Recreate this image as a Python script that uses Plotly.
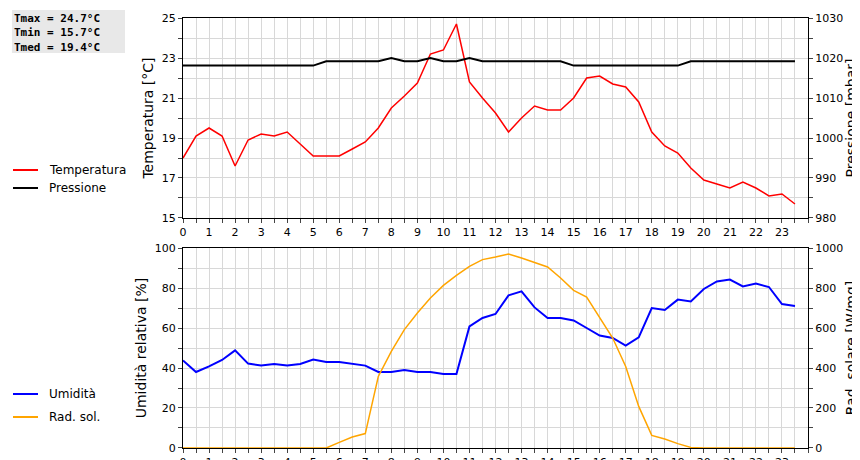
import plotly.graph_objects as go

# half-hour readings, 0 .. 23.5
ore = [i * 0.5 for i in range(48)]
temperatura = [18.0, 19.1, 19.5, 19.1, 17.6, 18.9, 19.2, 19.1, 19.3, 18.7,
               18.1, 18.1, 18.1, 18.45, 18.8, 19.5, 20.5, 21.1, 21.75, 23.2,
               23.4, 24.7, 21.8, 21.0, 20.25, 19.3, 20.0, 20.6, 20.4, 20.4,
               21.0, 22.0, 22.1, 21.7, 21.55, 20.8, 19.3, 18.6, 18.25, 17.5,
               16.9, 16.7, 16.5, 16.8, 16.5, 16.1, 16.2, 15.7]
pressione = [1018.1] * 11 + [1019.2] * 5 + [1020, 1019.2, 1019.2, 1020, 1019.2, 1019.2, 1020] \
    + [1019.2] * 7 + [1018.1] * 9 + [1019.2] * 9
umidita = [43.8, 38, 40.8, 44, 48.8, 42.2, 41.2, 42, 41.2, 42, 44.2, 43, 43, 42,
           41.2, 38, 38, 39, 38, 38, 37, 37, 60.8, 65, 67, 76.3, 78.3, 70.3, 65,
           65, 63.8, 60, 56.2, 55, 51.2, 55.3, 70, 69, 74.2, 73.3, 79.5, 83.3,
           84.2, 80.8, 82.2, 80.5, 72, 71]
radiazione = [0] * 12 + [28, 55, 72, 358, 483, 592, 675, 750, 813, 863, 908, 942,
                         955, 970, 950, 928, 905, 850, 788, 755, 655, 550, 408, 208,
                         63, 45, 22, 3] + [0] * 8
statistiche = ["Tmax = 24.7°C", "Tmin = 15.7°C", "Tmed = 19.4°C"]

fig = go.Figure()
fig.add_trace(go.Scatter(x=ore, y=temperatura, mode="lines", line=dict(color="#ff0000", width=1.5),
                         xaxis="x", yaxis="y"))
fig.add_trace(go.Scatter(x=ore, y=pressione, mode="lines", line=dict(color="black", width=2),
                         xaxis="x", yaxis="y2"))
fig.add_trace(go.Scatter(x=ore, y=umidita, mode="lines", line=dict(color="#0000ff", width=2),
                         xaxis="x2", yaxis="y3"))
fig.add_trace(go.Scatter(x=ore, y=radiazione, mode="lines", line=dict(color="#ffa500", width=1.5),
                         xaxis="x2", yaxis="y4"))

xvals = [i * 0.5 for i in range(49)]
xtext = [str(int(v)) if v == int(v) and v < 24 else "" for v in xvals]
grid = "#d8d8d8"
tick_font = dict(family="DejaVu Sans", size=11, color="black")
title_font = dict(family="DejaVu Sans", size=14, color="black")


def xaxis(anchor):
    return dict(range=[0, 24], tickvals=xvals, ticktext=xtext, showgrid=True, gridcolor=grid,
                ticks="outside", ticklen=4, showline=True, linecolor="black", mirror=True,
                tickfont=tick_font, anchor=anchor, zeroline=False, automargin=False)


def yaxis(rng, step, lab, title, domain=None, side="left", overlay=None, grid_on=True):
    vals = [rng[0] + i * step for i in range(int(round((rng[1] - rng[0]) / step)) + 1)]
    text = [str(int(v)) if i % lab == 0 else "" for i, v in enumerate(vals)]
    d = dict(range=rng, tickvals=vals, ticktext=text, showgrid=grid_on, gridcolor=grid,
             ticks="outside", ticklen=4, showline=True, linecolor="black",
             tickfont=tick_font, title=dict(text=title, font=title_font, standoff=4),
             side=side, zeroline=False, automargin=False)
    if domain:
        d["domain"] = domain
    if overlay:
        d["overlaying"] = overlay
    return d


top = [0.5349, 1.0]
bot = [0.0, 0.4651]
y1 = yaxis([15, 25], 1, 2, "Temperatura [°C]", domain=top)
y1["anchor"] = "x"
y2 = yaxis([980, 1030], 5, 2, "Pressione [mbar]", side="right", overlay="y", grid_on=False)
y2["anchor"] = "x"
y3 = yaxis([0, 100], 10, 2, "Umidità relativa [%]", domain=bot)
y3["anchor"] = "x2"
y4 = yaxis([0, 1000], 100, 2, "Rad. solare [W/mq]", side="right", overlay="y3", grid_on=False)
y4["anchor"] = "x2"

fig.update_layout(
    width=860, height=460, margin=dict(l=175, r=60, t=10, b=20),
    plot_bgcolor="white", paper_bgcolor="white", showlegend=False,
    xaxis=dict(xaxis("y"), domain=[0, 1]),
    xaxis2=dict(xaxis("y3"), domain=[0, 1]),
    yaxis=y1, yaxis2=y2, yaxis3=y3, yaxis4=y4,
)

# stats box
fig.add_shape(type="rect", xref="paper", yref="paper", x0=-0.2737, x1=-0.0928, y0=0.9186, y1=1.0186,
              fillcolor="#e8e8e8", line=dict(width=0), layer="below")
fig.add_annotation(xref="paper", yref="paper", x=-0.2737, y=1.0186, xanchor="left", yanchor="top",
                   text="<br>".join("<b>" + s + "</b>" for s in statistiche), showarrow=False, align="left",
                   font=dict(family="DejaVu Sans Mono", size=11, color="black"))

# legends
legenda = [("Temperatura", "#ff0000", 162), ("Pressione", "black", 180),
           ("Umidità", "#0000ff", 386), ("Rad. sol.", "#ffa500", 409)]
for nome, col, py in legenda:
    yp = (440 - py) / 430
    fig.add_shape(type="line", xref="paper", yref="paper", x0=-0.272, x1=-0.232, y0=yp, y1=yp,
                  line=dict(color=col, width=2))
    fig.add_annotation(xref="paper", yref="paper", x=-0.218, y=yp, xanchor="left", yanchor="middle",
                       text=nome, showarrow=False, font=dict(family="DejaVu Sans", size=12, color="black"))

fig.write_html("out.html")
